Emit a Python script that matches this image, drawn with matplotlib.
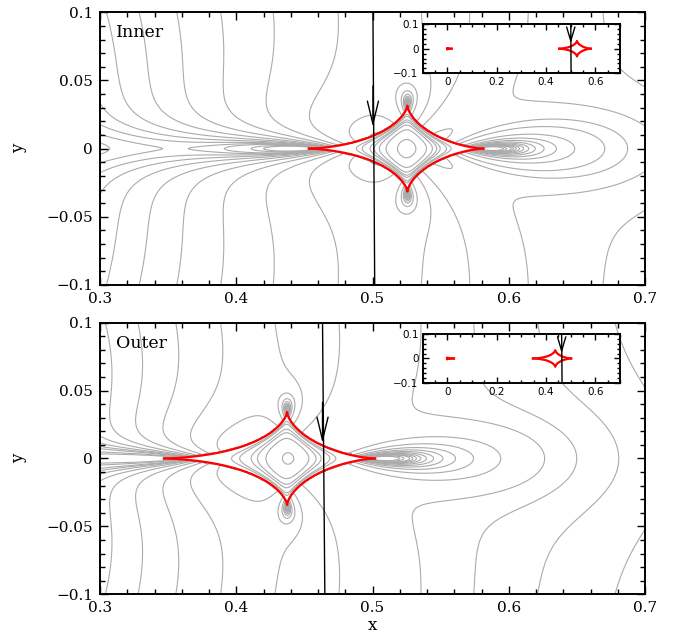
import numpy as np
import matplotlib
matplotlib.use("Agg")
import matplotlib.pyplot as plt
from itertools import permutations

# binary-lens solutions: host at the origin, planet at (s, 0)
panels = ["Inner", "Outer"]
sep = [1.296, 1.2415]
qratio = [1.12e-3, 1.15e-3]

# source path: x where it crosses y = +0.1 and y = -0.1, and where the arrow tip sits
traj_x_top = [0.5003, 0.4633]
traj_x_bot = [0.5016, 0.4650]
arrow_tip_y = [0.0159, 0.0114]

# magnification contour levels
levels = [1.7, 1.8, 1.9, 2.0, 2.2, 2.4, 2.6, 2.8, 3.0, 3.2, 3.4, 3.6, 3.8,
          4.0, 4.5, 5.0]

xlim, ylim = (0.3, 0.7), (-0.1, 0.1)
ins_xlim, ins_ylim = (-0.1, 0.7), (-0.1, 0.1)

SERIF = "DejaVu Serif"
SANS = "DejaVu Sans"
GREY = "#ababab"


def _pmul(a, b):
    n = a.shape[-1] + b.shape[-1] - 1
    shape = np.broadcast_shapes(a.shape[:-1], b.shape[:-1]) + (n,)
    out = np.zeros(shape, complex)
    for i in range(a.shape[-1]):
        for j in range(b.shape[-1]):
            out[..., i + j] += a[..., i] * b[..., j]
    return out


def _pad(a, n):
    return np.concatenate([np.zeros(a.shape[:-1] + (n - a.shape[-1],), complex), a], axis=-1)


def _roots(c):
    # batched polynomial roots from companion matrices
    c = c / c[..., :1]
    n = c.shape[-1] - 1
    comp = np.zeros(c.shape[:-1] + (n, n), complex)
    comp[..., 0, :] = -c[..., 1:]
    comp[..., np.arange(1, n), np.arange(n - 1)] = 1
    return np.linalg.eigvals(comp)


def magnification(xs, ys, s, q):
    """Point-source binary-lens magnification on a grid of source positions."""
    m1, m2 = 1 / (1 + q), q / (1 + q)
    zeta = (xs + 1j * ys).ravel()
    npt = zeta.size
    zb = np.conj(zeta)[:, None]
    P = np.array([1, -s, 0], complex)
    lin = np.array([0, m1 + m2, -m1 * s], complex)
    A1 = zb * P + lin
    A2 = A1 - s * P
    zm = np.stack([np.ones(npt, complex), -zeta], axis=1)
    poly = _pmul(_pmul(zm, A1), A2) - _pad(m1 * _pmul(P[None], A2) + m2 * _pmul(P[None], A1), 6)
    r = _roots(poly)
    rb = np.conj(r)
    # keep only roots that really satisfy the lens equation (3 or 5 images)
    resid = np.abs(r - m1 / rb - m2 / (rb - s) - zeta[:, None])
    order = np.argsort(resid, axis=1)
    rs = np.take_along_axis(resid, order, 1)
    r = np.take_along_axis(r, order, 1)
    rb = np.conj(r)
    inv = 1 / np.abs(1 - np.abs(m1 / rb**2 + m2 / (rb - s)**2)**2)
    five = rs[:, 4] < 1e-5
    mag = inv[:, :3].sum(1) + np.where(five, inv[:, 3] + inv[:, 4], 0)
    return mag.reshape(xs.shape)


PERMS = np.array(list(permutations(range(4))))


def caustic_tracks(s, q, n=6000):
    m1, m2 = 1 / (1 + q), q / (1 + q)
    e = np.exp(1j * np.linspace(0, 2 * np.pi, n, endpoint=False))
    one = np.ones(n)
    c = np.stack([-e, 2 * s * e, m1 + m2 - s * s * e, -2 * s * m1 * one, m1 * s * s * one], axis=1)
    w = _roots(c)
    # follow each critical-curve root continuously in phase
    for i in range(1, n):
        cand = w[i][PERMS]
        w[i] = cand[np.argmin(np.abs(cand - w[i - 1]).sum(1))]
    z = (np.conj(w) - m1 / w - m2 / (w - s)).T
    tracks = []
    for tr in z:
        j = np.argmin(np.abs(z[:, 0] - tr[-1]))
        tracks.append(np.append(tr, z[j, 0]))
    return tracks


def style_axes(ax, major_x, minor_x, major_y, minor_y, font, size, big):
    ax.xaxis.set_major_locator(plt.MultipleLocator(major_x))
    ax.xaxis.set_minor_locator(plt.MultipleLocator(minor_x))
    ax.yaxis.set_major_locator(plt.MultipleLocator(major_y))
    ax.yaxis.set_minor_locator(plt.MultipleLocator(minor_y))
    ax.tick_params(which="both", direction="in", top=True, right=True, width=1.0)
    ax.tick_params(which="major", length=6 if big else 4, labelsize=size, pad=5 if big else 3)
    ax.tick_params(which="minor", length=3.5 if big else 2.2)
    for sp in ax.spines.values():
        sp.set_linewidth(1.4)
    fmt = plt.FuncFormatter(lambda v, p: "0" if abs(v) < 1e-9 else
                            ("%g" % round(v, 3)).replace("-", "\u2212"))
    ax.xaxis.set_major_formatter(fmt)
    ax.yaxis.set_major_formatter(fmt)
    for lab in ax.get_xticklabels() + ax.get_yticklabels():
        lab.set_fontfamily(font)


def draw_path(ax, k, ylo, yhi, tip, head_len, head_w):
    # straight source path with an open arrow head pointing along the motion
    ys = np.array([ylo, yhi])
    xs = np.interp(ys, ylim[::-1], [traj_x_top[k], traj_x_bot[k]][::-1])
    ax.plot(xs, ys, color="black", lw=1.0, zorder=5)
    tip_x = np.interp(tip, ylim[::-1], [traj_x_top[k], traj_x_bot[k]][::-1])
    ax.annotate("", xy=(tip_x, tip), xytext=(tip_x, tip + 0.03),
                arrowprops=dict(arrowstyle="->,head_length=%g,head_width=%g" % (head_len, head_w),
                                color="black", lw=1.0, shrinkA=0, shrinkB=0),
                zorder=6)


fig = plt.figure(figsize=(6.87, 6.36), dpi=100)
main_rects = [[0.1456, 0.5519, 0.7933, 0.4288], [0.1456, 0.0656, 0.7933, 0.4270]]
inset_rects = [[0.6153, 0.8847, 0.2872, 0.0775], [0.6153, 0.3983, 0.2872, 0.0761]]

gx = np.linspace(xlim[0], xlim[1], 641)
gy = np.linspace(ylim[0], ylim[1], 321)
GX, GY = np.meshgrid(gx, gy)

for k, name in enumerate(panels):
    s, q = sep[k], qratio[k]
    ax = fig.add_axes(main_rects[k])
    mag = magnification(GX, GY, s, q)
    ax.contour(GX, GY, mag, levels=levels, colors=GREY, linewidths=0.8, zorder=1)
    tracks = caustic_tracks(s, q)
    for tr in tracks:
        ax.plot(tr.real, tr.imag, color="red", lw=1.6, zorder=3)
    draw_path(ax, k, ylim[0], ylim[1], arrow_tip_y[k], 1.65, 0.4)
    ax.set_xlim(*xlim)
    ax.set_ylim(*ylim)
    style_axes(ax, 0.1, 0.02, 0.05, 0.01, SERIF, 11, True)
    ax.set_ylabel("y", fontfamily=SERIF, fontsize=12, labelpad=14)
    if k == 1:
        ax.set_xlabel("x", fontfamily=SERIF, fontsize=12, labelpad=1)
    ax.text(0.03, 0.925, name, transform=ax.transAxes, va="center", ha="left",
            fontfamily=SERIF, fontsize=12.5)

    # whole-system view with both caustics
    ins = fig.add_axes(inset_rects[k], zorder=10)
    ins.set_facecolor("white")
    for tr in tracks:
        ins.plot(tr.real, tr.imag, color="red", lw=1.6)
    draw_path(ins, k, ins_ylim[0], ins_ylim[1], 0.022, 1.0, 0.3)
    ins.set_xlim(*ins_xlim)
    ins.set_ylim(*ins_ylim)
    style_axes(ins, 0.2, 0.05, 0.1, 0.02, SANS, 7.5, False)

fig.savefig("out.png", dpi=100)
